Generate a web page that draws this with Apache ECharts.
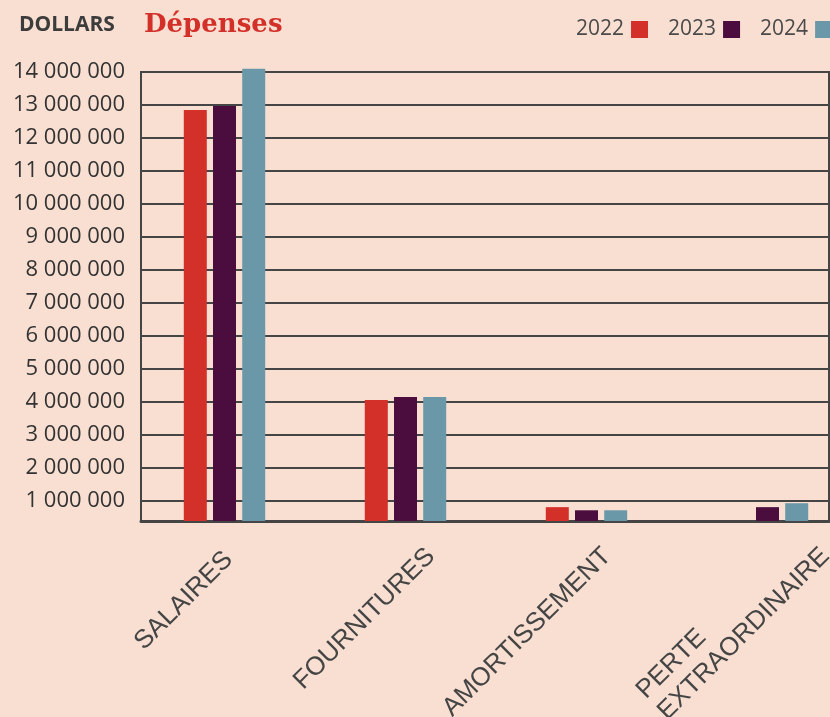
<!DOCTYPE html>
<html>
<head>
<meta charset="utf-8">
<script src="https://cdn.jsdelivr.net/npm/echarts@6/dist/echarts.min.js"></script>
<style>
html,body{margin:0;padding:0;background:#f8dfd2;}
#chart{width:830px;height:717px;}
</style>
</head>
<body>
<div id="chart"></div>
<script>
const categories = ['SALAIRES', 'FOURNITURES', 'AMORTISSEMENT', 'PERTE\nEXTRAORDINAIRE'];
const years = ['2022', '2023', '2024'];
const values2022 = [12850000, 4050000, 800000, null];
const values2023 = [12970000, 4140000, 705000, 800000];
const values2024 = [14100000, 4140000, 705000, 920000];
const yMin = 380000;
const yMax = 14000000;
const unitLabel = 'DOLLARS';
const titleText = 'Dépenses';

const colors = ['#d4302a', '#4a0d3d', '#6b98a8'];
const seriesValues = [values2022, values2023, values2024];

// layout of the plot frame
const plotTop = 72, plotBottom = 196, H = 717;
const plotH = H - plotTop - plotBottom;
const barTop = 52; // bar grid extends higher so the overflowing bar is not clipped
const barMax = yMin + (H - barTop - plotBottom) * (yMax - yMin) / plotH;

function fmt(v) {
  if (v < 1000000 - 1) return '';
  return String(Math.round(v)).replace(/\B(?=(\d{3})+(?!\d))/g, ' ');
}

const lab = {fontFamily: 'Liberation Sans', fontSize: 26, color: '#454545'};
const rich = {
  c0: Object.assign({padding: [0, 74, 41, 0]}, lab),
  c1: Object.assign({padding: [0, 100, 16, 0]}, lab),
  c2: Object.assign({padding: [0, 145, 23, 0]}, lab),
  c3a: Object.assign({align: 'left', lineHeight: 30, padding: [0, 0, 0, 0]}, lab),
  c3b: Object.assign({align: 'left', lineHeight: 30, padding: [0, 97, 0, 0]}, lab)
};
function catLabel(value, index) {
  const lines = String(value).split('\n');
  if (lines.length > 1) {
    return '{c' + index + 'a|' + lines[0] + '}\n{c' + index + 'b|' + lines[1] + '}';
  }
  return '{c' + index + '|' + value + '}';
}

const chart = echarts.init(document.getElementById('chart'), null, {renderer: 'canvas'});
const option = {
  backgroundColor: '#f8dfd2',
  animation: false,
  title: [
    {text: unitLabel, left: 19, top: 15, padding: 0,
     textStyle: {fontFamily: 'Open Sans', fontWeight: 'bold', fontSize: 21, color: '#3c3c3c'}},
    {text: titleText, left: 144, top: 12, padding: 0,
     textStyle: {fontFamily: 'DejaVu Serif', fontWeight: 'bold', fontSize: 26, color: '#d3302a'}}
  ],
  legend: {
    data: years,
    left: 576, top: 19, padding: 0, width: 400,
    align: 'right', icon: 'rect',
    itemWidth: 17, itemHeight: 17, itemGap: 20,
    textStyle: {fontFamily: 'Open Sans', fontSize: 21, color: '#4a4a4a', padding: [0, 2, 0, 0]}
  },
  grid: [
    {left: 141, right: 1, top: plotTop, bottom: plotBottom, show: true, borderColor: '#454545', borderWidth: 2,
     containLabel: false, outerBoundsMode: 'none'},
    {left: 134, width: 724, top: barTop, bottom: plotBottom, containLabel: false, outerBoundsMode: 'none'}
  ],
  xAxis: [
    {gridIndex: 0, type: 'category', data: categories,
     axisLine: {show: true, lineStyle: {color: '#454545', width: 3}},
     axisTick: {show: false}, axisLabel: {show: false}, splitLine: {show: false}},
    {gridIndex: 1, type: 'category', data: categories,
     axisLine: {show: false}, axisTick: {show: false}, splitLine: {show: false},
     axisLabel: {interval: 0, rotate: 45, margin: 68, align: 'center',
                 fontFamily: 'Liberation Sans', fontSize: 26, color: '#454545',
                 formatter: catLabel, rich: rich}}
  ],
  yAxis: [
    {gridIndex: 0, type: 'value', min: yMin, max: yMax, splitNumber: 14,
     axisLine: {show: true, lineStyle: {color: '#454545', width: 2}},
     axisTick: {show: false},
     splitLine: {show: true, lineStyle: {color: '#454545', width: 2}},
     axisLabel: {formatter: fmt, margin: 16, fontFamily: 'Open Sans', fontSize: 22, color: '#333333'}},
    {gridIndex: 1, type: 'value', min: yMin, max: barMax, show: false,
     splitLine: {show: false}}
  ],
  series: years.map((y, i) => ({
    name: y, type: 'bar', xAxisIndex: 1, yAxisIndex: 1,
    data: seriesValues[i], barWidth: 23, barGap: '27%',
    itemStyle: {color: colors[i]}
  }))
};
chart.setOption(option);
</script>
</body>
</html>
